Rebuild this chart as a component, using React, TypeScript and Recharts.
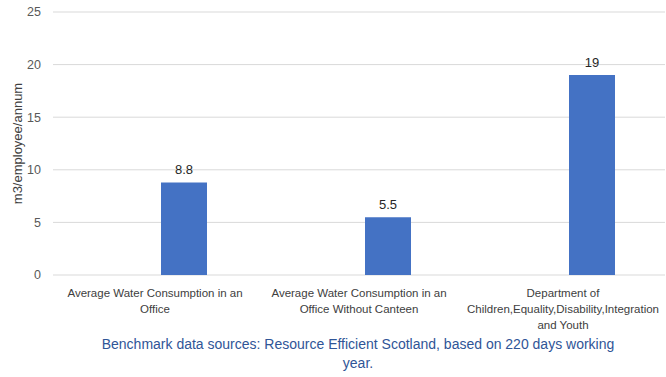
import React from 'react';
import { BarChart, Bar, XAxis, YAxis, CartesianGrid, LabelList } from 'recharts';

const categories = [
  'Average Water Consumption in an\nOffice',
  'Average Water Consumption in an\nOffice Without Canteen',
  'Department of\nChildren,Equality,Disability,Integration\nand Youth',
];
const emptySeries: (number | null)[] = [null, null, null];
const consumption = [8.8, 5.5, 19];
const yTicks = [0, 5, 10, 15, 20, 25];
const yAxisTitle = 'm3/employee/annum';
const caption = 'Benchmark data sources: Resource Efficient Scotland, based on 220 days working\nyear.';

const data = categories.map((c, i) => ({ name: c, empty: emptySeries[i], value: consumption[i] }));

const FONT = '"Liberation Sans", Arial, sans-serif';

const WrapTick = (props: any) => {
  const { x, y, payload } = props;
  const lines = String(payload.value).split('\n');
  return (
    <g transform={`translate(${x},${y})`}>
      {lines.map((l, i) => (
        <text key={i} x={0} y={0} dy={14 + i * 16} textAnchor="middle" fill="#404040" fontSize={11.5} fontFamily={FONT}>
          {l}
        </text>
      ))}
    </g>
  );
};

const YTitle = (props: any) => {
  const vb = props.viewBox || {};
  const cx = 17;
  const cy = (vb.y ?? 0) + (vb.height ?? 0) / 2;
  return (
    <text x={cx} y={cy} transform={`rotate(-90 ${cx} ${cy})`} textAnchor="middle" dominantBaseline="central" fill="#404040" fontSize={13} fontFamily={FONT}>
      {yAxisTitle}
    </text>
  );
};

export default function App() {
  return (
    <div style={{ position: 'absolute', left: 0, top: 0, width: 666, height: 377, background: '#fff' }}>
      <BarChart width={666} height={377} data={data} margin={{ top: 12, right: 1, left: 0, bottom: 42 }} barGap={12} barSize={46}>
        <CartesianGrid vertical={false} stroke="#d9d9d9" />
        <XAxis dataKey="name" axisLine={false} tickLine={false} tick={<WrapTick />} interval={0} height={60} />
        <YAxis
          domain={[0, 25]}
          ticks={yTicks}
          width={53}
          axisLine={false}
          tickLine={false}
          tickSize={0}
          tickMargin={12}
          tick={{ fill: '#595959', fontSize: 12.5, fontFamily: FONT }}
          label={<YTitle />}
        />
        <Bar dataKey="empty" fill="#ffffff" isAnimationActive={false} />
        <Bar dataKey="value" fill="#4472c4" isAnimationActive={false}>
          <LabelList dataKey="value" position="top" offset={8} fill="#262626" fontSize={13} fontFamily={FONT} />
        </Bar>
      </BarChart>
      <div
        style={{
          position: 'absolute',
          left: 0,
          top: 335,
          width: 716,
          textAlign: 'center',
          color: '#2f5597',
          fontSize: 14,
          lineHeight: '19px',
          fontFamily: FONT,
          whiteSpace: 'pre-line',
        }}
      >
        {caption}
      </div>
    </div>
  );
}
